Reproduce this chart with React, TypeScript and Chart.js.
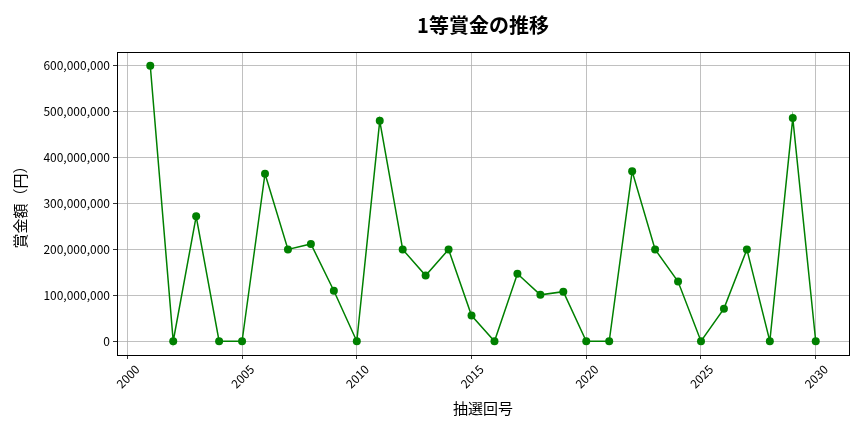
import React, { useEffect, useRef } from "react";
import { Chart, registerables } from "chart.js";

Chart.register(...registerables);

const drawNumbers = [
  2001, 2002, 2003, 2004, 2005, 2006, 2007, 2008, 2009, 2010,
  2011, 2012, 2013, 2014, 2015, 2016, 2017, 2018, 2019, 2020,
  2021, 2022, 2023, 2024, 2025, 2026, 2027, 2028, 2029, 2030,
];
const prizeValues = [
  600000000, 0, 272000000, 0, 0, 365000000, 200000000, 212000000, 110000000, 0,
  480000000, 200000000, 143000000, 200000000, 56000000, 0, 147000000, 101000000, 108000000, 0,
  0, 370000000, 200000000, 130000000, 0, 71000000, 200000000, 0, 486000000, 0,
];
const xTickValues = [2000, 2005, 2010, 2015, 2020, 2025, 2030];
const yTickValues = [0, 100000000, 200000000, 300000000, 400000000, 500000000, 600000000];

const chartTitle = "1等賞金の推移";
const xAxisTitle = "抽選回号";
const yAxisTitle = "賞金額（円）";

const FONT = "'Noto Sans CJK JP', 'Noto Sans', sans-serif";

const framePlugin = {
  id: "frame",
  afterDraw(chart: any) {
    const { ctx, chartArea } = chart;
    ctx.save();
    ctx.strokeStyle = "#000";
    ctx.lineWidth = 1;
    ctx.strokeRect(
      Math.round(chartArea.left) + 0.5,
      Math.round(chartArea.top) + 0.5,
      Math.round(chartArea.right - chartArea.left),
      Math.round(chartArea.bottom - chartArea.top)
    );
    ctx.fillStyle = "#000";
    ctx.font = `bold 20px ${FONT}`;
    ctx.textAlign = "center";
    ctx.textBaseline = "middle";
    ctx.fillText(chartTitle, (chartArea.left + chartArea.right) / 2, 25);
    ctx.restore();
  },
};

export default function App() {
  const canvasRef = useRef<HTMLCanvasElement | null>(null);

  useEffect(() => {
    if (!canvasRef.current) return;
    const chart = new Chart(canvasRef.current, {
      type: "line",
      data: {
        datasets: [
          {
            data: drawNumbers.map((x, i) => ({ x, y: prizeValues[i] })),
            borderColor: "#008000",
            backgroundColor: "#008000",
            borderWidth: 1.5,
            pointRadius: 4,
            pointHoverRadius: 4,
            pointBorderWidth: 0,
            tension: 0,
          },
        ],
      },
      options: {
        responsive: false,
        animation: false,
        layout: { padding: { top: 52, right: 15, left: 0, bottom: 0 } },
        plugins: {
          legend: { display: false },
          tooltip: { enabled: false },
          title: { display: false },
        },
        scales: {
          x: {
            type: "linear",
            min: 1999.55,
            max: 2031.45,
            afterBuildTicks: (scale: any) => {
              scale.ticks = xTickValues.map((v) => ({ value: v }));
            },
            afterFit: (scale: any) => {
              scale.height = 77;
            },
            ticks: {
              minRotation: 45,
              maxRotation: 45,
              labelOffset: 10,
              padding: 3,
              color: "#000",
              font: { family: FONT, size: 12 },
              callback: (v: any) => String(v),
            },
            grid: {
              color: "#b0b0b0",
              lineWidth: 0.8,
              tickColor: "#000",
              tickLength: 4,
              drawTicks: true,
            },
            border: { display: false },
            title: {
              display: true,
              text: xAxisTitle,
              color: "#000",
              font: { family: FONT, size: 15 },
              padding: { top: 4, bottom: 15 },
            },
          },
          y: {
            type: "linear",
            min: -30000000,
            max: 630000000,
            afterBuildTicks: (scale: any) => {
              scale.ticks = yTickValues.map((v) => ({ value: v }));
            },
            afterFit: (scale: any) => {
              scale.width = 117;
            },
            ticks: {
              padding: 3,
              color: "#000",
              font: { family: FONT, size: 12 },
              callback: (v: any) => Number(v).toLocaleString("en-US"),
            },
            grid: {
              color: "#b0b0b0",
              lineWidth: 0.8,
              tickColor: "#000",
              tickLength: 4,
              drawTicks: true,
            },
            border: { display: false },
            title: {
              display: true,
              text: yAxisTitle,
              color: "#000",
              font: { family: FONT, size: 15 },
              padding: { top: 11, bottom: 4 },
            },
          },
        },
      },
      plugins: [framePlugin],
    } as any);
    return () => chart.destroy();
  }, []);

  return (
    <div style={{ position: "fixed", left: 0, top: 0, width: 864, height: 432, background: "#fff" }}>
      <canvas ref={canvasRef} width={864} height={432} />
    </div>
  );
}
